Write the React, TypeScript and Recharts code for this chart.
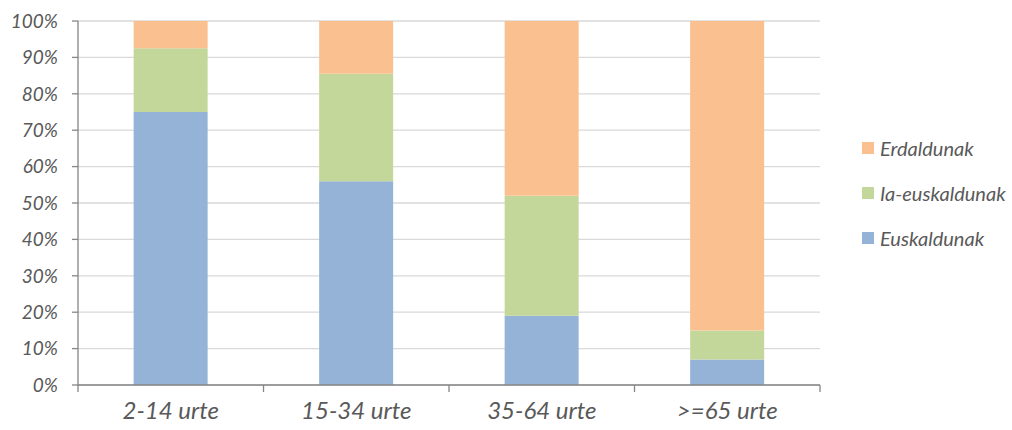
import { BarChart, Bar, XAxis, YAxis, CartesianGrid } from 'recharts';

const categories = ['2-14 urte', '15-34 urte', '35-64 urte', '>=65 urte'];
const euskaldunak = [75, 56, 19, 7];
const iaEuskaldunak = [17.5, 29.5, 33, 8];
const erdaldunak = [7.5, 14.5, 48, 85];
const yTicks = [0, 0.1, 0.2, 0.3, 0.4, 0.5, 0.6, 0.7, 0.8, 0.9, 1];

const data = categories.map((name, i) => ({
  name,
  euskaldunak: euskaldunak[i],
  iaEuskaldunak: iaEuskaldunak[i],
  erdaldunak: erdaldunak[i],
}));

const series = [
  { key: 'euskaldunak', name: 'Euskaldunak', color: '#95b3d7' },
  { key: 'iaEuskaldunak', name: 'Ia-euskaldunak', color: '#c4d79b' },
  { key: 'erdaldunak', name: 'Erdaldunak', color: '#fac090' },
];

const FONT = 'Lato, "Open Sans", sans-serif';
const TEXT = '#595959';
const AXIS = '#868686';

const PLOT_LEFT = 78;
const PLOT_RIGHT = 820;
const BAND = (PLOT_RIGHT - PLOT_LEFT) / categories.length;

function XTick(props: any) {
  const { x, y, payload, index } = props;
  const last = index === categories.length - 1;
  return (
    <g>
      <line x1={x - BAND / 2} x2={x - BAND / 2} y1={y} y2={y + 7} stroke={AXIS} strokeWidth={1.3} />
      {last && <line x1={x + BAND / 2} x2={x + BAND / 2} y1={y} y2={y + 7} stroke={AXIS} strokeWidth={1.3} />}
      <text x={x} y={y + 34} textAnchor="middle" fill={TEXT} fontSize={24} fontStyle="italic" fontFamily={FONT}>
        {payload.value}
      </text>
    </g>
  );
}

function LegendList() {
  // top to bottom matches the stacking order
  const items = [...series].reverse();
  return (
    <div style={{ position: 'absolute', left: 862, top: 125, fontFamily: FONT }}>
      {items.map((s) => (
        <div key={s.key} style={{ display: 'flex', alignItems: 'center', height: 45 }}>
          <span style={{ display: 'inline-block', width: 12, height: 12, background: s.color, marginRight: 6 }} />
          <span style={{ fontSize: 20, fontStyle: 'italic', color: TEXT, whiteSpace: 'nowrap' }}>{s.name}</span>
        </div>
      ))}
    </div>
  );
}

export default function App() {
  return (
    <div style={{ position: 'absolute', left: 0, top: 0, width: 1012, height: 430, background: '#fff' }}>
      <BarChart
        width={1012}
        height={430}
        data={data}
        stackOffset="expand"
        barCategoryGap="30%"
        margin={{ top: 21, right: 1012 - PLOT_RIGHT, bottom: 5, left: 8 }}
      >
        <CartesianGrid vertical={false} stroke="#d9d9d9" strokeWidth={1.3} />
        <XAxis
          dataKey="name"
          height={40}
          axisLine={{ stroke: AXIS, strokeWidth: 1.3 }}
          tickLine={false}
          tickSize={0}
          tickMargin={0}
          tick={<XTick />}
          interval={0}
        />
        <YAxis
          width={70}
          domain={[0, 1]}
          ticks={yTicks}
          tickFormatter={(v: number) => `${Math.round(v * 100)}%`}
          axisLine={{ stroke: AXIS, strokeWidth: 1.3 }}
          tickLine={{ stroke: AXIS, strokeWidth: 1.3 }}
          tickSize={6}
          tickMargin={14}
          tick={{ fill: TEXT, fontSize: 19, fontStyle: 'italic', fontFamily: FONT }}
        />
        {series.map((s) => (
          <Bar key={s.key} dataKey={s.key} name={s.name} stackId="a" fill={s.color} isAnimationActive={false} />
        ))}
      </BarChart>
      <LegendList />
    </div>
  );
}
